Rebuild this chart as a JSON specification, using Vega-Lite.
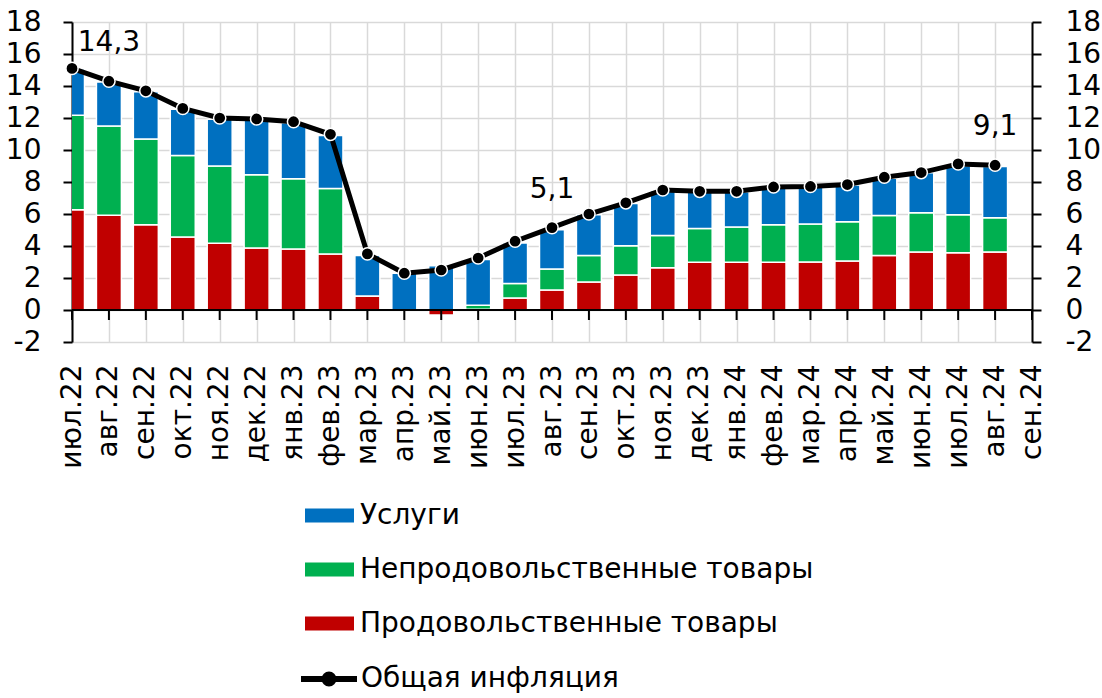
{
  "$schema": "https://vega.github.io/schema/vega-lite/v6.json",
  "width": 960,
  "height": 320,
  "autosize": {"type": "none"},
  "padding": {"left": 72, "top": 22, "right": 70, "bottom": 356},
  "background": "white",
  "config": {
    "font": "DejaVu Sans",
    "view": {"stroke": null},
    "axis": {"labelColor": "black", "labelFont": "DejaVu Sans", "labelFontSize": 28, "title": null}
  },
  "data": {
    "values": [
      {"m": "июл.22", "food": 6.27, "nonfood": 5.9, "serv": 2.9, "total": 15.1},
      {"m": "авг.22", "food": 5.92, "nonfood": 5.58, "serv": 2.75, "total": 14.3, "lbl": "14,3"},
      {"m": "сен.22", "food": 5.33, "nonfood": 5.36, "serv": 2.95, "total": 13.7},
      {"m": "окт.22", "food": 4.56, "nonfood": 5.09, "serv": 2.9, "total": 12.6},
      {"m": "ноя.22", "food": 4.17, "nonfood": 4.83, "serv": 2.92, "total": 12.0},
      {"m": "дек.22", "food": 3.88, "nonfood": 4.58, "serv": 3.42, "total": 11.94},
      {"m": "янв.23", "food": 3.81, "nonfood": 4.4, "serv": 3.5, "total": 11.77},
      {"m": "фев.23", "food": 3.5, "nonfood": 4.1, "serv": 3.3, "total": 10.98},
      {"m": "мар.23", "food": 0.875, "nonfood": 0, "serv": 2.53, "total": 3.51},
      {"m": "апр.23", "food": 0, "nonfood": 0, "serv": 2.3, "total": 2.3},
      {"m": "май.23", "food": -0.31, "nonfood": 0, "serv": 2.77, "total": 2.5},
      {"m": "июн.23", "food": 0.05, "nonfood": 0.25, "serv": 2.85, "total": 3.25},
      {"m": "июл.23", "food": 0.75, "nonfood": 0.9, "serv": 2.54, "total": 4.3},
      {"m": "авг.23", "food": 1.25, "nonfood": 1.31, "serv": 2.46, "total": 5.15, "lbl": "5,1"},
      {"m": "сен.23", "food": 1.75, "nonfood": 1.65, "serv": 2.55, "total": 6.0},
      {"m": "окт.23", "food": 2.19, "nonfood": 1.83, "serv": 2.63, "total": 6.7},
      {"m": "ноя.23", "food": 2.64, "nonfood": 2.01, "serv": 2.8, "total": 7.5},
      {"m": "дек.23", "food": 2.99, "nonfood": 2.11, "serv": 2.3, "total": 7.42},
      {"m": "янв.24", "food": 2.98, "nonfood": 2.21, "serv": 2.2, "total": 7.42},
      {"m": "фев.24", "food": 2.98, "nonfood": 2.35, "serv": 2.35, "total": 7.69},
      {"m": "мар.24", "food": 3.0, "nonfood": 2.38, "serv": 2.3, "total": 7.72},
      {"m": "апр.24", "food": 3.06, "nonfood": 2.46, "serv": 2.3, "total": 7.84},
      {"m": "май.24", "food": 3.4, "nonfood": 2.5, "serv": 2.33, "total": 8.3},
      {"m": "июн.24", "food": 3.63, "nonfood": 2.45, "serv": 2.5, "total": 8.59},
      {"m": "июл.24", "food": 3.58, "nonfood": 2.38, "serv": 3.05, "total": 9.13},
      {"m": "авг.24", "food": 3.63, "nonfood": 2.14, "serv": 3.2, "total": 9.05, "lbl": "9,1"},
      {"m": "сен.24"}
    ]
  },
  "resolve": {"scale": {"y": "shared"}, "axis": {"y": "independent"}},
  "layer": [
    {
      "transform": [
        {"fold": ["food", "nonfood", "serv"], "as": ["k", "v"]},
        {"filter": "isValid(datum.v)"},
        {"calculate": "indexof(['food','nonfood','serv'], datum.k)", "as": "ord"}
      ],
      "mark": {"type": "bar", "size": 25, "stroke": "white", "strokeWidth": 1.5, "clip": true},
      "encoding": {
        "x": {
          "field": "m", "type": "ordinal", "sort": null,
          "scale": {"type": "point", "padding": 0, "domain": ["июл.22","авг.22","сен.22","окт.22","ноя.22","дек.22","янв.23","фев.23","мар.23","апр.23","май.23","июн.23","июл.23","авг.23","сен.23","окт.23","ноя.23","дек.23","янв.24","фев.24","мар.24","апр.24","май.24","июн.24","июл.24","авг.24","сен.24"]},
          "axis": {"orient": "bottom", "labelAngle": 270, "labelAlign": "right", "labelBaseline": "middle", "labelPadding": 22, "ticks": false, "tickSize": 0, "domain": false, "grid": true, "gridColor": "#d9d9d9", "gridWidth": 1.5, "labelOverlap": false}
        },
        "y": {
          "field": "v", "type": "quantitative", "stack": "zero",
          "scale": {"domain": [-2, 18], "nice": false},
          "axis": {"orient": "left", "values": [-2,0,2,4,6,8,10,12,14,16,18], "labelExpr": "'' + datum.value", "domainColor": "black", "domainWidth": 2, "tickColor": "black", "tickWidth": 2, "tickSize": 9, "labelPadding": 22, "grid": true, "gridColor": "#d9d9d9", "gridWidth": 1.5}
        },
        "fill": {
          "field": "k", "type": "nominal",
          "scale": {"domain": ["serv", "nonfood", "food"], "range": ["#0070C0", "#00B050", "#C00000"]},
          "legend": {
            "orient": "none", "legendX": 233, "legendY": 469, "direction": "vertical", "title": null, "padding": 0,
            "symbolType": "M-1,-0.286H1V0.286H-1Z", "symbolSize": 2401, "symbolStrokeWidth": 0, "symbolOpacity": 1,
            "labelFontSize": 28, "labelColor": "black", "labelOffset": 6, "rowPadding": 15, "labelLimit": 600,
            "labelExpr": "datum.value == 'serv' ? 'Услуги' : datum.value == 'nonfood' ? 'Непродовольственные товары' : 'Продовольственные товары'"
          }
        },
        "order": {"field": "ord", "type": "quantitative"}
      }
    },
    {
      "data": {"values": [{}]},
      "mark": {"type": "rule", "color": "black", "strokeWidth": 2},
      "encoding": {"y": {"datum": 0, "type": "quantitative", "axis": null}}
    },
    {
      "mark": {"type": "rule", "color": "black", "strokeWidth": 2},
      "encoding": {
        "x": {"field": "m", "type": "ordinal", "sort": null},
        "y": {"datum": 0, "type": "quantitative", "axis": null},
        "y2": {"datum": -0.625}
      }
    },
    {
      "mark": {"type": "line", "strokeWidth": 5},
      "encoding": {
        "x": {"field": "m", "type": "ordinal", "sort": null},
        "y": {"field": "total", "type": "quantitative", "axis": null},
        "stroke": {
          "datum": "Общая инфляция",
          "scale": {"range": ["black"]},
          "legend": {
            "orient": "none", "legendX": 226, "legendY": 626, "title": null, "padding": 0,
            "symbolType": "M-1,0H1M0.16,0A0.16,0.16,0,1,1,-0.16,0A0.16,0.16,0,1,1,0.16,0Z",
            "symbolSize": 3136, "symbolStrokeWidth": 6, "symbolStrokeColor": "black", "symbolFillColor": "black", "symbolOpacity": 1,
            "labelFontSize": 28, "labelColor": "black", "labelOffset": 1, "labelLimit": 600
          }
        }
      }
    },
    {
      "mark": {"type": "circle", "color": "black", "stroke": "white", "strokeWidth": 1.5, "size": 150, "opacity": 1},
      "encoding": {
        "x": {"field": "m", "type": "ordinal", "sort": null},
        "y": {
          "field": "total", "type": "quantitative",
          "axis": {"orient": "right", "values": [-2,0,2,4,6,8,10,12,14,16,18], "labelExpr": "'' + datum.value", "domainColor": "black", "domainWidth": 2, "tickColor": "black", "tickWidth": 2, "tickSize": 9, "labelPadding": 24, "grid": false}
        }
      }
    },
    {
      "transform": [{"filter": "isValid(datum.lbl)"}],
      "mark": {"type": "text", "dy": -38, "fontSize": 28, "baseline": "middle", "align": "center", "color": "black"},
      "encoding": {
        "x": {"field": "m", "type": "ordinal", "sort": null},
        "y": {"field": "total", "type": "quantitative", "axis": null},
        "text": {"field": "lbl", "type": "nominal"}
      }
    }
  ]
}
